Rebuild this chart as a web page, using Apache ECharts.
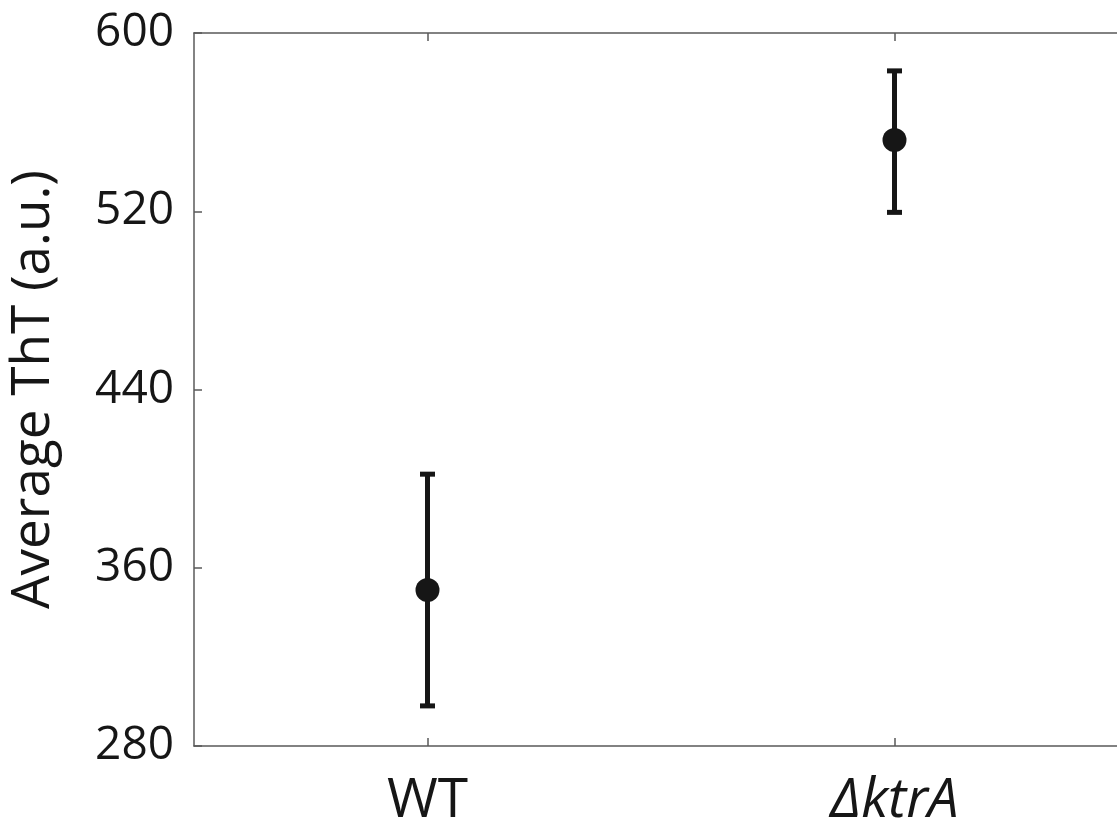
<!DOCTYPE html>
<html>
<head>
<meta charset="utf-8">
<script src="https://cdn.jsdelivr.net/npm/echarts@6/dist/echarts.min.js"></script>
<style>
  html, body { margin: 0; padding: 0; background: #fff; }
  #chart { width: 1117px; height: 822px; }
</style>
</head>
<body>
<div id="chart"></div>
<script>
// Strains and average ThT fluorescence with error bars
const strains = ['WT', 'ΔktrA'];
const meanTht = [350, 552];
const lowTht = [298, 519.5];
const highTht = [402, 583];
const yTicks = [280, 360, 440, 520, 600];

const FONT = '"Open Sans", "Noto Sans", sans-serif';
const AXIS_COLOR = '#5a5a5a';
const INK = '#161616';

const errData = strains.map((s, i) => [i, meanTht[i], lowTht[i], highTht[i]]);
const pointData = strains.map((s, i) => [i, meanTht[i]]);

const chart = echarts.init(document.getElementById('chart'), null, { renderer: 'canvas' });

const boxAxisLine = { show: true, lineStyle: { color: AXIS_COLOR, width: 1.5 } };
const boxTick = { show: true, inside: true, length: 8, lineStyle: { color: AXIS_COLOR, width: 1.5 } };

chart.setOption({
  animation: false,
  backgroundColor: '#ffffff',
  grid: {
    left: 194, right: -11, top: 33, bottom: 76,
    containLabel: false,
    outerBoundsMode: 'none'
  },
  xAxis: [
    {
      type: 'category',
      data: strains,
      position: 'bottom',
      boundaryGap: true,
      axisLine: boxAxisLine,
      axisTick: Object.assign({ alignWithLabel: true }, boxTick),
      axisLabel: {
        margin: 28,
        fontFamily: FONT,
        fontSize: 55,
        color: INK,
        formatter: v => v === 'WT' ? v : '{i|' + v + '}',
        rich: { i: { fontFamily: FONT, fontSize: 55, fontStyle: 'italic', color: INK } }
      },
      splitLine: { show: false }
    },
    {
      type: 'category',
      data: strains,
      position: 'top',
      boundaryGap: true,
      axisLine: boxAxisLine,
      axisTick: Object.assign({ alignWithLabel: true }, boxTick),
      axisLabel: { show: false },
      splitLine: { show: false }
    }
  ],
  yAxis: [
    {
      type: 'value',
      position: 'left',
      min: yTicks[0],
      max: yTicks[yTicks.length - 1],
      interval: yTicks[1] - yTicks[0],
      axisLine: boxAxisLine,
      axisTick: boxTick,
      axisLabel: { margin: 20, fontFamily: FONT, fontSize: 46, color: INK },
      splitLine: { show: false },
      name: 'Average ThT (a.u.)',
      nameLocation: 'middle',
      nameRotate: 90,
      nameGap: 134,
      nameTextStyle: { fontFamily: FONT, fontSize: 53, color: INK }
    },
    {
      type: 'value',
      position: 'right',
      min: yTicks[0],
      max: yTicks[yTicks.length - 1],
      interval: yTicks[1] - yTicks[0],
      axisLine: boxAxisLine,
      axisTick: boxTick,
      axisLabel: { show: false },
      splitLine: { show: false }
    }
  ],
  series: [
    {
      type: 'custom',
      xAxisIndex: 0,
      yAxisIndex: 0,
      data: errData,
      renderItem: function (params, api) {
        const x = api.value(0);
        const top = api.coord([x, api.value(3)]);
        const bot = api.coord([x, api.value(2)]);
        const capHalf = 7.5;
        const style = { stroke: INK, lineWidth: 5 };
        return {
          type: 'group',
          children: [
            { type: 'line', shape: { x1: top[0], y1: top[1], x2: bot[0], y2: bot[1] }, style: style },
            { type: 'line', shape: { x1: top[0] - capHalf, y1: top[1], x2: top[0] + capHalf, y2: top[1] }, style: style },
            { type: 'line', shape: { x1: bot[0] - capHalf, y1: bot[1], x2: bot[0] + capHalf, y2: bot[1] }, style: style }
          ]
        };
      },
      z: 2
    },
    {
      type: 'scatter',
      xAxisIndex: 0,
      yAxisIndex: 0,
      data: pointData,
      symbol: 'circle',
      symbolSize: 24,
      itemStyle: { color: INK, opacity: 1 },
      z: 3
    }
  ]
});
</script>
</body>
</html>
